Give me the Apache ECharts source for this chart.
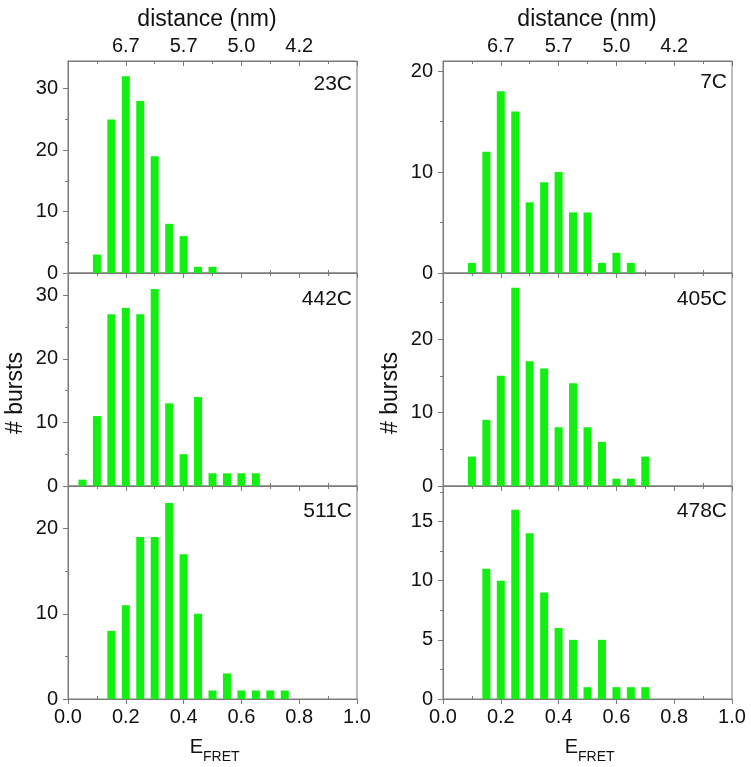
<!DOCTYPE html>
<html>
<head>
<meta charset="utf-8">
<script src="https://cdn.jsdelivr.net/npm/echarts@6/dist/echarts.min.js"></script>
<style>
html,body{margin:0;padding:0;background:#fff;}
#chart{width:751px;height:767px;}
</style>
</head>
<body>
<div id="chart"></div>
<script>
// ---- data ----
const bins = [0.05,0.10,0.15,0.20,0.25,0.30,0.35,0.40,0.45,0.50,0.55,0.60,0.65,0.70,0.75];
const panelNames = ['23C','7C','442C','405C','511C','478C'];
const counts23C  = [0,3,25,32,28,19,8,6,1,1,0,0,0,0,0];
const counts7C   = [0,1,12,18,16,7,9,10,6,6,1,2,1,0,0];
const counts442C = [1,11,27,28,27,31,13,5,14,2,2,2,2,0,0];
const counts405C = [0,4,9,15,27,17,16,8,14,8,6,1,1,4,0];
const counts511C = [0,0,8,11,19,19,23,17,10,1,3,1,1,1,1];
const counts478C = [0,0,11,10,16,14,9,6,5,1,5,1,1,1,0];
const yMax = [34.5, 21, 33.5, 29, 25, 18];
const yMajor = [[0,10,20,30],[0,10,20],[0,10,20,30],[0,10,20],[0,10,20],[0,5,10,15]];
const yMinor = [[5,15,25],[5,15],[5,15,25],[5,15,25],[5,15],[2.5,7.5,12.5,17.5]];
const xMajor = [0,0.2,0.4,0.6,0.8,1.0];
const xMinor = [0.1,0.3,0.5,0.7,0.9];
const topTickValues = [0.2,0.4,0.6,0.8];
const topTickLabels = ['6.7','5.7','5.0','4.2'];

const allCounts = [counts23C,counts7C,counts442C,counts405C,counts511C,counts478C];

// ---- layout ----
const FONT = 'Liberation Sans, Arial, sans-serif';
const AX = '#7a7a7a';
const lefts = [68, 443];
const tops = [61, 273, 486];
const heights = [212, 213, 213];
const W = 289;

const grids = [], xAxes = [], yAxes = [], series = [];
for (let i = 0; i < 6; i++) {
  const row = Math.floor(i / 2), col = i % 2;
  grids.push({left: lefts[col], top: tops[row], width: W, height: heights[row],
    show: true, borderColor: AX, borderWidth: 1, backgroundColor: 'transparent'});
  const isBottom = row === 2, isTop = row === 0;
  // main bottom axis
  xAxes.push({type:'value', gridIndex:i, position:'bottom', min:0, max:1, interval:0.2,
    axisLine:{show:true, lineStyle:{color:AX}},
    axisTick:{show:true, inside:false, length:5, customValues:xMajor, lineStyle:{color:AX}},
    splitLine:{show:false},
    axisLabel:{show:isBottom, margin:8, color:'#111', fontSize:20, fontFamily:FONT,
      customValues:xMajor, formatter: v => v.toFixed(1)}});
  // minor bottom ticks (inside)
  xAxes.push({type:'value', gridIndex:i, position:'bottom', min:0, max:1,
    axisLine:{show:false},
    axisTick:{show:true, inside:true, length:3, customValues:xMinor, lineStyle:{color:AX}},
    splitLine:{show:false}, axisLabel:{show:false}});
  // top axis
  xAxes.push({type:'value', gridIndex:i, position:'top', min:0, max:1, interval:0.2,
    axisLine:{show:true, lineStyle:{color:AX}},
    axisTick:{show:true, inside:true, length:5, lineStyle:{color:AX}},
    minorTick:{show:true, splitNumber:2, length:3, lineStyle:{color:AX}},
    splitLine:{show:false},
    axisLabel:{show:isTop, margin:5, color:'#111', fontSize:20, fontFamily:FONT,
      customValues: topTickValues,
      formatter: v => { const k = topTickValues.findIndex(t => Math.abs(t - v) < 1e-6); return k >= 0 ? topTickLabels[k] : ''; }}});
  // y axis major
  yAxes.push({type:'value', gridIndex:i, min:0, max:yMax[i], interval: (i === 5 ? 5 : 10),
    axisLine:{show:true, lineStyle:{color:AX}},
    axisTick:{show:true, inside:false, length:5, customValues:yMajor[i], lineStyle:{color:AX}},
    splitLine:{show:false},
    axisLabel:{show:true, margin:10, color:'#111', fontSize:20, fontFamily:FONT,
      customValues:yMajor[i]}});
  // y axis minor
  yAxes.push({type:'value', gridIndex:i, min:0, max:yMax[i], position:'left',
    axisLine:{show:false},
    axisTick:{show:true, inside:false, length:3, customValues:yMinor[i], lineStyle:{color:AX}},
    splitLine:{show:false}, axisLabel:{show:false}});

  series.push({type:'bar', name:panelNames[i], xAxisIndex:3*i, yAxisIndex:2*i,
    barWidth:8, silent:true, animation:false,
    itemStyle:{color:'#12f012'},
    data: bins.map((b, k) => [b, allCounts[i][k]])});
}

// ---- text annotations ----
const graphics = [];
const labelPos = [[352,84],[727,82],[352,299],[727,299],[352,511],[727,511]];
panelNames.forEach((n, i) => {
  graphics.push({type:'text', x:labelPos[i][0], y:labelPos[i][1],
    style:{text:n, font:'21px ' + FONT, fill:'#111', align:'right', verticalAlign:'middle'}});
});
[207, 587].forEach(cx => {
  graphics.push({type:'text', x:cx, y:20,
    style:{text:'distance (nm)', font:'23px ' + FONT, fill:'#111', align:'center', verticalAlign:'middle'}});
});
[16, 391].forEach(cx => {
  graphics.push({type:'text', x:cx, y:393, rotation:Math.PI/2,
    style:{text:'# bursts', font:'23px ' + FONT, fill:'#111', align:'center', verticalAlign:'middle'}});
});
[203, 578].forEach(ex => {
  graphics.push({type:'text', x:ex, y:747,
    style:{text:'E', font:'20px ' + FONT, fill:'#111', align:'right', verticalAlign:'middle'}});
  graphics.push({type:'text', x:ex, y:757,
    style:{text:'FRET', font:'14px ' + FONT, fill:'#111', align:'left', verticalAlign:'middle'}});
});

const chart = echarts.init(document.getElementById('chart'), null, {renderer:'canvas'});
chart.setOption({
  animation:false,
  backgroundColor:'#fff',
  grid: grids,
  xAxis: xAxes,
  yAxis: yAxes,
  series: series,
  graphic: graphics
});
</script>
</body>
</html>
